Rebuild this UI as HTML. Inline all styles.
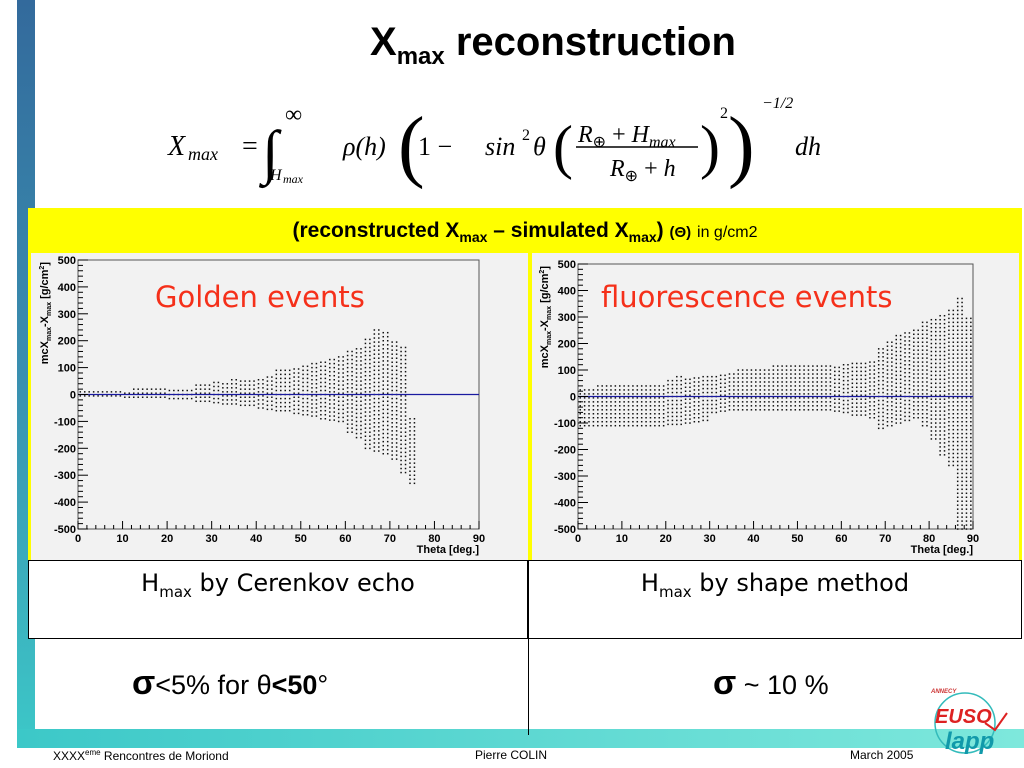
<!DOCTYPE html>
<html><head><meta charset="utf-8">
<style>
body{margin:0;width:1024px;height:768px;position:relative;background:#fff;font-family:"Liberation Sans",sans-serif;overflow:hidden}
.abs{position:absolute}
</style></head><body>
<div class="abs" style="left:17px;top:0;width:18px;height:748px;background:linear-gradient(#336a9c,#3a8fb0 50%,#3cc8c8)"></div>
<div class="abs" style="left:17px;top:729px;width:1007px;height:19px;background:linear-gradient(90deg,#3cc8c8,#7ee8dc)"></div>
<div class="abs" style="left:370px;top:20px;font-size:40px;font-weight:bold;color:#000">X<sub style="font-size:24px">max</sub> reconstruction</div>
<svg class="abs" style="left:150px;top:80px" width="700" height="120" font-family="Liberation Serif,serif" font-style="italic">
<text x="18" y="75" font-size="28">X</text><text x="38" y="80" font-size="18">max</text>
<text x="92" y="75" font-size="28" font-style="normal">=</text>
<text x="112" y="92" font-size="60" font-style="normal">∫</text>
<text x="135" y="42" font-size="24" font-style="normal">∞</text>
<text x="120" y="100" font-size="16">H</text><text x="133" y="103" font-size="12">max</text>
<text x="193" y="75" font-size="26">ρ(h)</text>
<text x="248" y="92" font-size="80" font-style="normal">(</text>
<text x="268" y="75" font-size="26" font-style="normal">1 − </text>
<text x="335" y="75" font-size="26">sin</text><text x="372" y="60" font-size="16" font-style="normal">2</text><text x="383" y="75" font-size="26">θ</text>
<text x="403" y="87" font-size="60" font-style="normal">(</text>
<text x="428" y="62" font-size="24">R<tspan font-size="16" dy="5" font-style="normal">⊕</tspan><tspan dy="-5" font-style="normal"> + </tspan>H<tspan font-size="16" dy="5">max</tspan></text>
<line x1="426" y1="67" x2="548" y2="67" stroke="#000" stroke-width="1.5"/>
<text x="460" y="96" font-size="24">R<tspan font-size="16" dy="5" font-style="normal">⊕</tspan><tspan dy="-5" font-style="normal"> + </tspan>h</text>
<text x="550" y="87" font-size="60" font-style="normal">)</text>
<text x="570" y="38" font-size="16" font-style="normal">2</text>
<text x="578" y="92" font-size="80" font-style="normal">)</text>
<text x="612" y="28" font-size="16">−1/2</text>
<text x="645" y="75" font-size="26">dh</text>
</svg>
<div class="abs" style="left:28px;top:208px;width:994px;height:42px;background:#ffff00;text-align:center;line-height:46px;font-size:21px;font-weight:bold">(reconstructed X<sub style="font-size:14px">max</sub> – simulated X<sub style="font-size:14px">max</sub>) <span style="font-size:15px">(Θ)</span> <span style="font-weight:normal;font-size:16px">in g/cm2</span></div>
<div class="abs" style="left:28px;top:250px;width:990px;height:310px;background:#ffff00;border-right:4px solid #ffff00"></div>
<svg class="abs" id="plots" style="left:0;top:0" width="1024" height="768" font-family="Liberation Sans,sans-serif"></svg>
<div class="abs" style="left:28px;top:560px;width:500px;height:79px;border:1px solid #000;background:#fff;text-align:center;font-family:'DejaVu Sans',sans-serif;font-size:24px;padding-top:8px;box-sizing:border-box">H<sub style="font-size:15px">max</sub> by Cerenkov echo</div>
<div class="abs" style="left:528px;top:560px;width:494px;height:79px;border:1px solid #000;background:#fff;text-align:center;font-family:'DejaVu Sans',sans-serif;font-size:24px;padding-top:8px;box-sizing:border-box">H<sub style="font-size:15px">max</sub> by shape method</div>
<div class="abs" style="left:528px;top:639px;width:1px;height:96px;background:#000"></div>
<div class="abs" style="left:132px;top:664px;font-size:27px"><b style="font-size:34px">σ</b>&lt;5% for θ<b>&lt;50</b>°</div>
<div class="abs" style="left:713px;top:664px;font-size:27px"><b style="font-size:34px">σ</b> ~ 10 %</div>
<div class="abs" style="left:53px;top:748px;font-size:12px">XXXX<sup style="font-size:8px">eme</sup> Rencontres de Moriond</div>
<div class="abs" style="left:475px;top:748px;font-size:12px">Pierre COLIN</div>
<div class="abs" style="left:850px;top:748px;font-size:12px">March 2005</div>
<svg class="abs" style="left:925px;top:685px" width="99" height="70">
<text x="6" y="8" font-size="6" font-weight="bold" fill="#c33" font-style="italic">ANNECY</text>
<circle cx="40" cy="38" r="30" fill="none" stroke="#3bb" stroke-width="1.5"/>
<text x="10" y="38" font-size="20" font-weight="bold" font-style="italic" fill="#d22" font-family="Liberation Sans,sans-serif">EUSO</text>
<path d="M60 38 L70 45 L82 28" stroke="#d22" stroke-width="2" fill="none"/>
<text x="20" y="64" font-size="24" font-weight="bold" font-style="italic" fill="#19a" font-family="Liberation Sans,sans-serif">lapp</text>
</svg>
<script>
// Golden events (left) envelope per 2-degree bin
const goldTheta=[1,3,5,7,9,11,13,15,17,19,21,23,25,27,29,31,33,35,37,39,41,43,45,47,49,51,53,55,57,59,61,63,65,67,69,71,73,75];
const goldUpper=[10,10,10,10,10,15,20,20,20,20,20,20,25,40,35,50,50,55,55,60,65,70,90,95,100,110,125,130,135,150,170,180,210,240,230,200,180,-90];
const goldLower=[-5,-5,-5,-5,-5,-10,-10,-10,-10,-10,-15,-15,-15,-25,-25,-30,-35,-35,-40,-40,-50,-55,-60,-60,-70,-75,-80,-90,-95,-100,-140,-160,-200,-210,-220,-240,-290,-330];
// Fluorescence events (right)
const fluoTheta=[1,3,5,7,9,11,13,15,17,19,21,23,25,27,29,31,33,35,37,39,41,43,45,47,49,51,53,55,57,59,61,63,65,67,69,71,73,75,77,79,81,83,85,87,89];
const fluoUpper=[30,35,40,45,45,45,45,45,50,50,60,75,75,80,80,85,90,95,100,105,110,110,115,115,115,115,115,115,115,120,125,130,135,140,190,210,230,250,250,290,300,310,330,380,300];
const fluoLower=[-110,-110,-110,-110,-110,-110,-110,-110,-110,-110,-105,-105,-100,-95,-90,-60,-55,-50,-50,-50,-50,-50,-50,-50,-50,-50,-50,-50,-50,-55,-60,-70,-70,-80,-120,-110,-100,-90,-80,-110,-160,-220,-260,-500,-500];
const xTicks=[0,10,20,30,40,50,60,70,80,90];
const yTicks=[500,400,300,200,100,0,-100,-200,-300,-400,-500];
const titles=["Golden events","fluorescence events"];

const svg=document.getElementById('plots');
const NS='http://www.w3.org/2000/svg';
function mk(tag,attrs){const e=document.createElementNS(NS,tag);for(const k in attrs)e.setAttribute(k,attrs[k]);svg.appendChild(e);return e;}
function drawPlot(px,pw,fx0,fx1,fy0,fy1,thetas,up,lo,title,tx,name){
  const bg=mk('rect',{x:px,y:253,width:pw,height:307,fill:'#f2f2f2'});
  
  
  const X=t=>fx0+(t/90)*(fx1-fx0);
  const Y=v=>fy0+((500-v)/1000)*(fy1-fy0);
  const fr=mk('rect',{x:fx0,y:fy0,width:fx1-fx0,height:fy1-fy0,fill:'none',stroke:'#555','stroke-width':1});
  
  
  for(let i=0;i<thetas.length;i++){
    for(const dt of [-0.5,0.5]){
      for(let v=lo[i];v<=up[i];v+=15){
        const d=mk('rect',{x:X(thetas[i]+dt)-0.7,y:Y(v)-0.7,width:1.5,height:1.5,fill:'#111'});
        
        
      }
    }
  }
  const zl=mk('line',{x1:fx0,x2:fx1,y1:Y(0),y2:Y(0),stroke:'#1a1aa0','stroke-width':1.2});
  
  
  for(let t=0;t<=90;t+=2){mk('line',{x1:X(t),x2:X(t),y1:fy1,y2:fy1-(t%10==0?8:4),stroke:'#000'});}
  for(let v=-500;v<=500;v+=20){mk('line',{x1:fx0,x2:fx0+(v%100==0?10:5),y1:Y(v),y2:Y(v),stroke:'#000'});}
  xTicks.forEach(t=>{const e=mk('text',{x:X(t),y:fy1+13,'font-size':11,'font-weight':'bold','text-anchor':'middle'});e.textContent=t;
    
    });
  yTicks.forEach(v=>{const e=mk('text',{x:fx0-2,y:Y(v)+4,'font-size':11,'font-weight':'bold','text-anchor':'end'});e.textContent=v;
    
    });
  const xt=mk('text',{x:fx1,y:fy1+24,'font-size':11,'font-weight':'bold','text-anchor':'end'});xt.textContent='Theta [deg.]';
  
  
  const yt=mk('text',{transform:`translate(${fx0-30},${fy0+2}) rotate(-90)`,'font-size':11,'font-weight':'bold','text-anchor':'end'});
  yt.innerHTML='mcX<tspan font-size="7" dy="3">max</tspan><tspan dy="-3">-X</tspan><tspan font-size="7" dy="3">max</tspan><tspan dy="-3"> [g/cm</tspan><tspan font-size="7" dy="-4">2</tspan><tspan dy="4">]</tspan>';
  
  
  const tt=mk('text',{x:tx,y:307,'font-size':29,fill:'#f5301a','font-family':'DejaVu Sans,sans-serif'});tt.textContent=title;
  
  
}
drawPlot(31,497,78,479,260,529,goldTheta,goldUpper,goldLower,titles[0],155,'golden-plot');
drawPlot(532,487,578,973,264,529,fluoTheta,fluoUpper,fluoLower,titles[1],601,'fluorescence-plot');
</script>
</body></html>
